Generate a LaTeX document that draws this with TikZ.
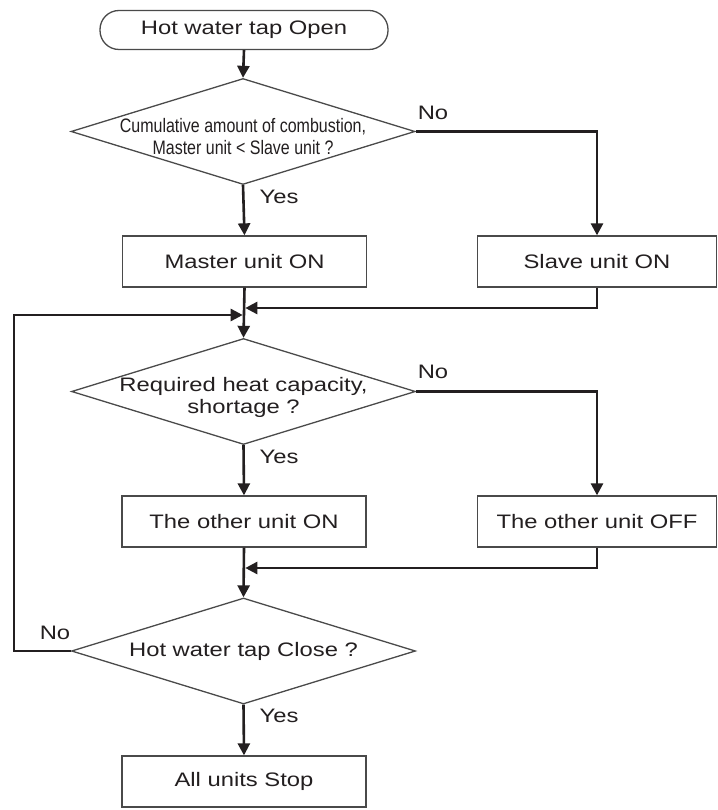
\documentclass[tikz,border=0pt]{standalone}
\usepackage{fontspec}
\setmainfont{Liberation Sans}[FakeStretch=1.22]
\newfontfamily\condfont{Liberation Sans}[FakeStretch=0.82]
\usetikzlibrary{arrows.meta,shapes.geometric}
\definecolor{linecol}{HTML}{231F20}
\definecolor{boxgray}{HTML}{4A4A4A}
\newcommand{\fs}{\fontsize{19.5}{22}\selectfont}
\begin{document}
\begin{tikzpicture}[x=1pt,y=-1pt,
  box/.style={draw=boxgray, line width=1.3pt, minimum width=244pt, minimum height=51pt, inner sep=0pt, font=\fs, text=linecol},
  dec/.style={draw=boxgray, line width=1.3pt, shape=diamond, minimum width=344pt, minimum height=106pt, inner sep=0pt},
  term/.style={draw=boxgray, line width=1.3pt, rounded corners=19pt, minimum width=288pt, minimum height=39pt, inner sep=0pt, font=\fs, text=linecol},
  conn/.style={draw=linecol, line width=2.6pt},
  arr/.style={conn, -{Triangle[length=12pt,width=12pt]}},
  lbl/.style={inner sep=0pt, font=\fs, text=linecol, align=center}]
\useasboundingbox (0,0) rectangle (717,810);
\fill[white] (0,0) rectangle (717,810);
% nodes
\node[term] (start) at (244,30) {Hot water tap Open};
\node[dec] (d1) at (243,131.5) {};
\node[lbl, font=\fontsize{19.5}{22}\condfont] (t1) at ([yshift=-5pt]d1.center) {Cumulative amount of combustion,\\Master unit < Slave unit ?};
\node[box] (master) at (244.5,261.5) {Master unit ON};
\node[box, minimum width=239pt] (slave) at (597,261.5) {Slave unit ON};
\node[dec] (d2) at (243.5,391.5) {};
\node[lbl] (t2) at ([yshift=-6pt]d2.center) {Required heat capacity,\\shortage ?};
\node[box] (on) at (244,521.5) {The other unit ON};
\node[box, minimum width=239pt] (off) at (597,521.5) {The other unit OFF};
\node[dec] (d3) at (243.5,651) {};
\node[lbl] (t3) at (d3.center) {Hot water tap Close ?};
\node[box] (stop) at (244,781.5) {All units Stop};
% labels
\node[lbl] (no1) at (433,112.5) {No};
\node[lbl] (yes1) at (279,197) {Yes};
\node[lbl] (no2) at (433,372) {No};
\node[lbl] (yes2) at (279,456.5) {Yes};
\node[lbl] (no3) at (55,632.5) {No};
\node[lbl] (yes3) at (279,716) {Yes};
% junction coordinates
\coordinate (j1r) at (244,308);
\coordinate (j1l) at (244,315);
\coordinate (j2r) at (244,568);
\coordinate (lp) at (14,315);
% connectors
\draw[arr] (start.south) -- (d1.north);
\draw[arr] (d1.south) -- (master.north);
\draw[arr] (d1.east) -| (slave.north);
\draw[arr, shorten >=1.3pt] (slave.south) |- (j1r);
\draw[arr] (master.south) -- (d2.north);
\draw[arr, shorten >=1.3pt] (d3.west) -| (lp) -- (j1l);
\draw[arr] (d2.south) -- (on.north);
\draw[arr] (d2.east) -| (off.north);
\draw[arr, shorten >=1.3pt] (off.south) |- (j2r);
\draw[arr] (on.south) -- (d3.north);
\draw[arr] (d3.south) -- (stop.north);
\end{tikzpicture}
\end{document}
